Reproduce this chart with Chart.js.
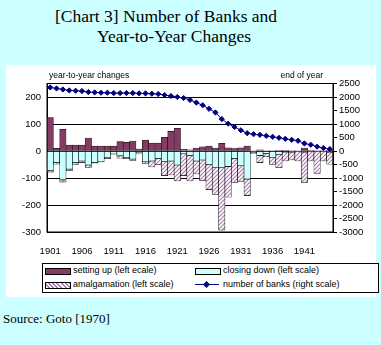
<!DOCTYPE html>
<html>
<head>
<meta charset="utf-8">
<script src="https://cdn.jsdelivr.net/npm/chart.js@4.4.0/dist/chart.umd.min.js"></script>
<style>
  body { margin:0; width:381px; height:345px; background:#CCFFFF; position:relative; overflow:hidden; }
  .titulo { position:absolute; font-family:"Liberation Serif", serif; font-size:17.5px; color:#000; white-space:nowrap; }
  .panel { position:absolute; left:6px; top:65px; width:370px; height:232px; background:#fff; }
  #myChart { position:absolute; left:0; top:60px; }
  .leyenda { position:absolute; left:42px; top:263px; width:335px; height:28px; border:1px solid #000; background:#fff;
             font-family:"Liberation Sans", sans-serif; font-size:9px; }
  .item { position:absolute; white-space:nowrap; }
  .sw { position:absolute; width:24px; height:5px; }
  .fuente { position:absolute; left:3px; top:311px; font-family:"Liberation Serif", serif; font-size:13px; }
</style>
</head>
<body>
<div class="titulo" style="left:55px;top:6px;">[Chart 3] Number of Banks and</div>
<div class="titulo" style="left:97px;top:26px;">Year-to-Year Changes</div>
<div class="panel"></div>
<canvas id="myChart" width="381" height="200"></canvas>
<div class="leyenda">
  <div class="sw" style="left:2px;top:4px;background:#843C64;border:0.5px solid #000;"></div>
  <div class="item" style="left:30px;top:1px;">setting up (left ecale)</div>
  <div class="sw" style="left:152px;top:4px;background:#CCFFFF;border:1px solid #000;"></div>
  <div class="item" style="left:180px;top:1px;">closing down (left scale)</div>
  <div class="sw" style="left:2px;top:18px;border:0.5px solid #000;background:repeating-linear-gradient(45deg,#fff 0 1.5px,#b07ab0 1.5px 3px);"></div>
  <div class="item" style="left:30px;top:15px;">amalgamation (left scale)</div>
  <div class="sw" style="left:152px;top:18px;height:0;border-top:1px solid #000080;margin-top:2px;"></div>
  <div class="sw" style="left:161px;top:18px;width:5px;height:5px;background:#000080;transform:rotate(45deg);"></div>
  <div class="item" style="left:180px;top:15px;">number of banks (right scale)</div>
</div>
<div class="fuente">Source: Goto [1970]</div>
<script>
let years = ['1901','1902','1903','1904','1905','1906','1907','1908','1909','1910',
             '1911','1912','1913','1914','1915','1916','1917','1918','1919','1920',
             '1921','1922','1923','1924','1925','1926','1927','1928','1929','1930',
             '1931','1932','1933','1934','1935','1936','1937','1938','1939','1940',
             '1941','1942','1943','1944','1945'];
let settingUp = [124, 10, 80, 22, 22, 22, 48, 18, 18, 18,
                 18, 35, 32, 37, 7, 40, 29, 29, 51, 73,
                 84, 6, 4, 11, 15, 18, 11, 28, 12, 9,
                 12, 18, 2, 4, 2, 2, 1, 1, 2, 2,
                 11, 3, 2, 2, 1];
let closingDown = [-71, -43, -107, -67, -43, -37, -52, -43, -38, -24,
                   -11, -18, -24, -30, -6, -40, -37, -28, -39, -37,
                   -52, -10, -17, -37, -33, -49, -61, -61, -57, -28,
                   -55, -104, -5, -16, -9, -24, -12, -6, -4, -2,
                   -4, -2, -2, -2, -4];
let amalgamation = [-7, -6, -8, -6, -7, -6, -9, -2, -2, -4,
                    -2, -9, -4, -5, -5, -6, -22, -23, -52, -52,
                    -59, -81, -94, -48, -77, -94, -100, -232, -114, -88,
                    -58, -61, -4, -27, -12, -26, -50, -31, -29, -35,
                    -112, -35, -81, -35, -45];
let banks = [2354, 2317, 2280, 2244, 2232, 2220, 2183, 2170, 2158, 2158,
             2146, 2146, 2146, 2146, 2134, 2134, 2122, 2110, 2073, 2037,
             2000, 1963, 1890, 1793, 1695, 1561, 1427, 1183, 1012, 890,
             768, 659, 622, 598, 561, 524, 488, 451, 415, 378,
             280, 232, 159, 110, 73];

function rayado(){
  let c = document.createElement('canvas');
  c.width = 4; c.height = 4;
  let g = c.getContext('2d');
  g.fillStyle = '#fff';
  g.fillRect(0, 0, 4, 4);
  g.strokeStyle = '#b07ab0';
  g.lineWidth = 1.2;
  g.beginPath();
  g.moveTo(0, 4); g.lineTo(4, 0);
  g.moveTo(-1, 1); g.lineTo(1, -1);
  g.moveTo(3, 5); g.lineTo(5, 3);
  g.stroke();
  return g.createPattern(c, 'repeat');
}

let marco = {
  id: 'marco',
  afterDraw(chart){
    let ctx = chart.ctx, a = chart.chartArea;
    ctx.save();
    ctx.strokeStyle = '#000';
    ctx.lineWidth = 1;
    ctx.strokeRect(a.left, a.top, a.right - a.left, a.bottom - a.top);
    ctx.fillStyle = '#000';
    ctx.font = '8.5px "Liberation Sans", sans-serif';
    ctx.textBaseline = 'alphabetic';
    ctx.textAlign = 'left';
    ctx.fillText('year-to-year changes', a.left + 2, a.top - 6);
    ctx.textAlign = 'right';
    ctx.fillText('end of year', a.right - 10, a.top - 6);
    ctx.restore();
  }
};

Chart.defaults.font.family = '"Liberation Sans", sans-serif';
Chart.defaults.font.size = 9.5;
Chart.defaults.color = '#000';

let ctx = document.getElementById('myChart').getContext('2d');
let chart = new Chart(ctx, {
  type: 'bar',
  data: {
    labels: years,
    datasets: [
      { type: 'line', label: 'number of banks (right scale)', data: banks, yAxisID: 'y1',
        borderColor: '#000080', backgroundColor: '#000080', borderWidth: 1,
        pointStyle: 'rectRot', pointRadius: 2.6, order: 0 },
      { label: 'setting up (left ecale)', data: settingUp, backgroundColor: '#843C64',
        borderColor: '#000', borderWidth: 0.5, order: 1 },
      { label: 'closing down (left scale)', data: closingDown, backgroundColor: '#CCFFFF',
        borderColor: '#000', borderWidth: 0.6, order: 1 },
      { label: 'amalgamation (left scale)', data: amalgamation, backgroundColor: rayado(),
        borderColor: '#000', borderWidth: 0.6, order: 1 }
    ]
  },
  options: {
    responsive: false,
    animation: false,
    datasets: { bar: { categoryPercentage: 1, barPercentage: 1, borderSkipped: false } },
    layout: { padding: { top: 23.5, left: 0, right: 0, bottom: 0 } },
    plugins: { legend: { display: false }, tooltip: { enabled: false } },
    scales: {
      x: {
        stacked: true,
        grid: { display: false },
        border: { color: '#000' },
        ticks: { autoSkip: false, maxRotation: 0, padding: 6,
                 callback: function(v, i){ return i % 5 == 0 ? years[i] : ''; } },
        afterFit: function(s){ s.height = 28; }
      },
      y: {
        stacked: true,
        min: -300, max: 250,
        grid: { color: '#000', drawTicks: false },
        border: { color: '#000' },
        ticks: { stepSize: 100, padding: 6 },
        afterBuildTicks: function(s){ s.ticks = s.ticks.filter(t => t.value <= 200); },
        afterFit: function(s){ s.width = 47; }
      },
      y1: {
        position: 'right',
        min: -3000, max: 2500,
        grid: { drawOnChartArea: false, color: '#000', tickLength: 4 },
        border: { color: '#000' },
        ticks: { stepSize: 500, padding: 2, autoSkip: false,
                 callback: function(v){ return String(v); } },
        afterFit: function(s){ s.width = 48; }
      }
    }
  },
  plugins: [marco]
});
</script>
</body>
</html>
